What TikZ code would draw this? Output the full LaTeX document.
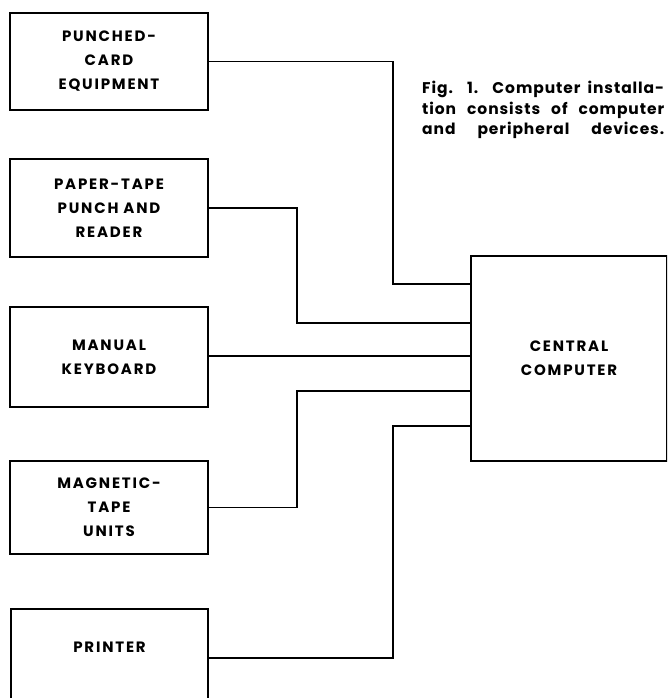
\documentclass[tikz,border=0pt]{standalone}
\usepackage{fontspec}
\newfontfamily\boxfont[LetterSpace=12]{Poppins}
\newfontfamily\capfont[LetterSpace=6]{Poppins}
\begin{document}
\begin{tikzpicture}[x=1pt,y=-1pt,
  blk/.style={draw, line width=1.6pt, inner sep=0pt, align=center,
    font=\boxfont\bfseries\fontsize{15}{24}\selectfont},
  wire/.style={line width=1.6pt},
  capline/.style={anchor=base west, inner sep=0pt, font=\capfont\bfseries\fontsize{15.5}{19}\selectfont}]
\useasboundingbox (0,0) rectangle (667,698);
\clip (0,0) rectangle (667,698);
\fill[white] (0,0) rectangle (667,698);
\node[blk, minimum width=198, minimum height=97] (pc) at (109,61.5) {PUNCHED-\\CARD\\EQUIPMENT};
\node[blk, minimum width=198, minimum height=98] (pt) at (109,208) {PAPER-TAPE\\PUNCH AND\\READER};
\node[blk, minimum width=198, minimum height=100] (kb) at (109,357) {MANUAL\\KEYBOARD};
\node[blk, minimum width=198, minimum height=93] (mt) at (109,507.5) {MAGNETIC-\\TAPE\\UNITS};
\node[blk, minimum width=197, minimum height=100, anchor=north] (pr) at (109.5,608) {\\[20pt]PRINTER\\[40pt]};
\node[blk, minimum width=196, minimum height=205] (cc) at (569,358.5) {CENTRAL\\COMPUTER};
\node[capline] (c1) at (422,94) {\makebox[242pt][s]{Fig. 1. Computer installa-}};
\node[capline] (c2) at (422,114) {\makebox[242pt][s]{tion consists of computer}};
\node[capline] (c3) at (422,134) {\makebox[242pt][s]{and peripheral devices.}};
\draw[wire] (pc.east) -| (393,284) -- (cc.west |- 0,284);
\draw[wire] (pt.east) -| (297,323) -- (cc.west |- 0,323);
\draw[wire] (kb.east |- 0,356) -- (cc.west |- 0,356);
\draw[wire] (mt.east) -| (297,391) -- (cc.west |- 0,391);
\draw[wire] (pr.west |- 0,658) ++(197,0) -| (393,426) -- (cc.west |- 0,426);
\end{tikzpicture}
\end{document}
